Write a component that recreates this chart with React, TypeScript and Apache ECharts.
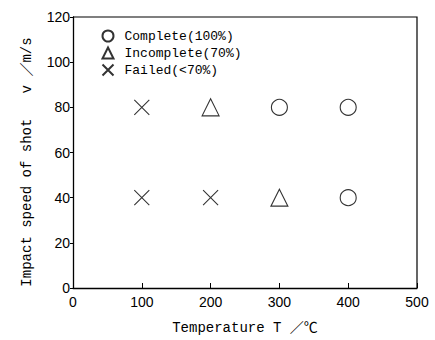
import React, { useEffect, useRef } from "react";
import * as echarts from "echarts";

const xTicks = [0, 100, 200, 300, 400, 500];
const yTicks = [0, 20, 40, 60, 80, 100, 120];
const completeData: [number, number][] = [[300, 80], [400, 80], [400, 40]];
const incompleteData: [number, number][] = [[200, 80], [300, 40]];
const failedData: [number, number][] = [[100, 80], [100, 40], [200, 40]];
const seriesNames = ["Complete(100%)", "Incomplete(70%)", "Failed(<70%)"];
const yTitle = "Impact speed of shot   v ／m/s";
const xTitle = "Temperature T ／℃";

const CROSS = "path://M0,0L10,10M10,0L0,10";
const MONO = "'Liberation Mono', 'DejaVu Sans Mono', 'Noto Sans CJK JP', monospace";
const SANS = "'Liberation Sans', Arial, sans-serif";

export default function App() {
  const ref = useRef<HTMLDivElement>(null);
  useEffect(() => {
    if (!ref.current) return;
    const chart = echarts.init(ref.current, undefined, { renderer: "svg" });
    const mk = (name: string, data: [number, number][], symbol: string, size: number) => ({
      name,
      type: "scatter",
      data,
      symbol,
      symbolSize: size,
      itemStyle: { color: "none", borderColor: "#000", borderWidth: 1.1 },
    });
    chart.setOption({
      animation: false,
      backgroundColor: "#fff",
      grid: { left: 73, right: 18, top: 17, bottom: 50, containLabel: false },
      legend: {
        orient: "vertical",
        left: 95,
        top: 23,
        itemGap: 1,
        itemWidth: 11,
        itemHeight: 11,
        textStyle: { fontFamily: MONO, fontSize: 13, color: "#000", padding: [0, 0, 0, 6] },
        data: seriesNames.map((n) => ({ name: n })),
      },
      xAxis: {
        type: "value",
        min: xTicks[0],
        max: xTicks[xTicks.length - 1],
        interval: 100,
        name: xTitle,
        nameLocation: "middle",
        nameGap: 33,
        nameTextStyle: { fontFamily: MONO, fontSize: 14, color: "#000" },
        axisLine: { show: true, lineStyle: { color: "#000", width: 1.3 } },
        axisTick: { show: true, inside: true, length: 5, lineStyle: { color: "#000" } },
        axisLabel: { fontFamily: SANS, fontSize: 14, color: "#000", margin: 7 },
        splitLine: { show: false },
      },
      yAxis: {
        type: "value",
        min: yTicks[0],
        max: yTicks[yTicks.length - 1],
        interval: 20,
        axisLine: { show: true, lineStyle: { color: "#000", width: 1.3 } },
        axisTick: { show: true, inside: false, length: 3, lineStyle: { color: "#000" } },
        axisLabel: { fontFamily: SANS, fontSize: 14, color: "#000", margin: 3 },
        splitLine: { show: false },
      },
      series: [
        mk(seriesNames[0], completeData, "circle", 16),
        mk(seriesNames[1], incompleteData, "triangle", 17),
        mk(seriesNames[2], failedData, CROSS, 15),
      ],
    });
    const p0 = chart.convertToPixel({ gridIndex: 0 }, [0, 0]) as number[];
    const p1 = chart.convertToPixel({ gridIndex: 0 }, [500, 120]) as number[];
    chart.setOption({
      graphic: [
        {
          type: "polyline",
          shape: { points: [[p0[0], p1[1]], [p1[0], p1[1]], [p1[0], p0[1]]] },
          style: { stroke: "#000", lineWidth: 1.2, fill: "none" },
          silent: true,
        },
        {
          type: "text",
          x: 27,
          y: 162,
          rotation: Math.PI / 2,
          style: {
            text: yTitle,
            font: `14px ${MONO}`,
            fill: "#000",
            align: "center",
            verticalAlign: "middle",
          },
          silent: true,
        },
      ],
    });
    return () => chart.dispose();
  }, []);
  return (
    <div
      ref={ref}
      style={{ position: "absolute", left: 0, top: 0, width: 435, height: 340, background: "#fff" }}
    />
  );
}
